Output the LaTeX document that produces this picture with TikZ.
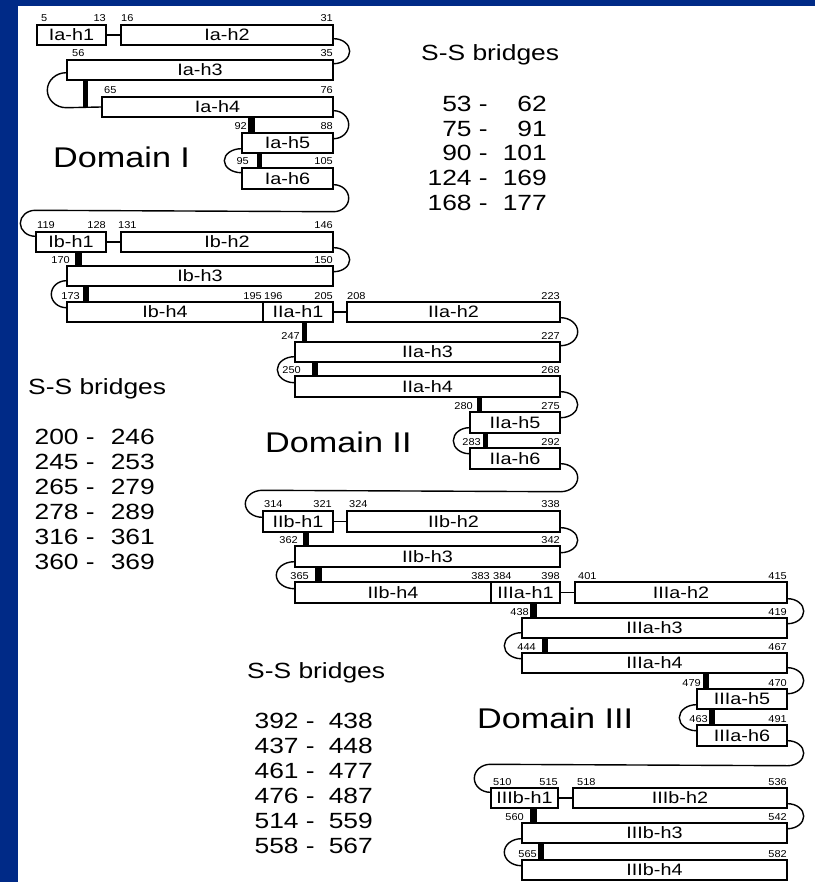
\documentclass[tikz,border=0pt]{standalone}
\usepackage{fontspec}
\setmainfont[FakeStretch=1.2]{Liberation Sans}
\newfontfamily\numfont[FakeStretch=1.1]{Liberation Sans}
\usetikzlibrary{calc}
\definecolor{bgblue}{RGB}{0,42,135}
\tikzset{
  hbox/.style={draw, line width=1.4pt, inner sep=0pt, fill=white, font=\fontsize{16.5}{16.5}\selectfont},
  loopline/.style={line width=1.4pt},
  ssbar/.style={fill=black},
  numL/.style={anchor=base west, inner sep=0pt, font=\numfont\fontsize{10}{10}\selectfont},
  numR/.style={anchor=base east, inner sep=0pt, font=\numfont\fontsize{10}{10}\selectfont},
  domlabel/.style={anchor=base west, inner sep=0pt, font=\fontsize{28.5}{28.5}\selectfont},
  sshead/.style={anchor=base west, inner sep=0pt, font=\fontsize{22}{22}\selectfont},
  ssrow/.style={anchor=base east, inner sep=0pt, font=\fontsize{22}{22}\selectfont},
}
\newcommand\hbx[6]{\node[hbox, minimum width={(#4-#2)*1pt}, minimum height={(#5-#3)*1pt}] (#1) at ({(#2+#4)/2},{(#3+#5)/2}) {#6};}
\newcommand\ssb[4]{\fill[ssbar] (#1,#2) rectangle (#3,#4);}
\newcommand\rloop[4]{\draw[loopline] ([yshift=#2pt]#1.south east) arc[start angle=90, end angle=-90, x radius=#3pt, y radius=#4pt];}
\newcommand\lloop[4]{\draw[loopline] ([yshift=#2pt]#1.south west) arc[start angle=90, end angle=270, x radius=#3pt, y radius=#4pt];}
\begin{document}
\begin{tikzpicture}[x=1pt,y=-1pt]
\useasboundingbox (0,0) rectangle (815,882);
\fill[bgblue] (0,0) rectangle (815,882);
\fill[white] (18,6) rectangle (815,882);

% ---------------- Domain I ----------------
\hbx{Ia1}{37}{25}{106}{45}{Ia-h1}
\hbx{Ia2}{121}{25}{333}{45}{Ia-h2}
\hbx{Ia3}{67}{60}{333}{80}{Ia-h3}
\hbx{Ia4}{102}{97}{333}{117}{Ia-h4}
\hbx{Ia5}{242}{133}{333}{153}{Ia-h5}
\hbx{Ia6}{242}{168}{333}{189}{Ia-h6}
\hbx{Ib1}{36}{232}{106}{252}{Ib-h1}
\hbx{Ib2}{121}{232}{333}{252}{Ib-h2}
\hbx{Ib3}{67}{266}{333}{286}{Ib-h3}
\hbx{Ib4}{67}{302}{263}{322}{Ib-h4}
% ---------------- Domain II ----------------
\hbx{IIa1}{263}{302}{333}{322}{IIa-h1}
\hbx{IIa2}{347}{302}{560}{322}{IIa-h2}
\hbx{IIa3}{295}{342}{560}{362}{IIa-h3}
\hbx{IIa4}{295}{376}{560}{397}{IIa-h4}
\hbx{IIa5}{470}{412}{560}{433}{IIa-h5}
\hbx{IIa6}{470}{448}{560}{469}{IIa-h6}
\hbx{IIb1}{263}{511}{333}{532}{IIb-h1}
\hbx{IIb2}{347}{511}{560}{532}{IIb-h2}
\hbx{IIb3}{295}{546}{560}{567}{IIb-h3}
\hbx{IIb4}{295}{582}{491}{603}{IIb-h4}
% ---------------- Domain III ----------------
\hbx{IIIa1}{491}{582}{560}{603}{IIIa-h1}
\hbx{IIIa2}{575}{582}{787}{603}{IIIa-h2}
\hbx{IIIa3}{522}{618}{787}{638}{IIIa-h3}
\hbx{IIIa4}{522}{653}{787}{673}{IIIa-h4}
\hbx{IIIa5}{697}{689}{787}{709}{IIIa-h5}
\hbx{IIIa6}{697}{725}{787}{746}{IIIa-h6}
\hbx{IIIb1}{491}{788}{558}{808}{IIIb-h1}
\hbx{IIIb2}{573}{788}{787}{808}{IIIb-h2}
\hbx{IIIb3}{522}{823}{787}{843}{IIIb-h3}
\hbx{IIIb4}{522}{860}{787}{880}{IIIb-h4}

% ---------------- connectors ----------------
\draw[loopline] (Ia1.east) -- (Ia2.west);
\rloop{Ia2}{7}{16}{12.5}
\draw[loopline] ([yshift=8pt]Ia3.south west) arc[start angle=90, end angle=270, x radius=19pt, y radius=17.5pt] -- (Ia4.west);
\rloop{Ia4}{7}{15}{14}
\lloop{Ia5}{5}{17}{12}
\draw[loopline] ([yshift=5pt]Ia6.south east) arc[start angle=90, end angle=-90, x radius=15pt, y radius=13.5pt]
  -- ([yshift=21pt]Ib1.north west) arc[start angle=90, end angle=270, x radius=15pt, y radius=13pt];
\draw[loopline] (Ib1.east) -- (Ib2.west);
\rloop{Ib2}{5}{16}{12}
\lloop{Ib3}{6}{15}{13.5}
\draw[loopline] (IIa1.east) -- (IIa2.west);
\rloop{IIa2}{5}{17}{14}
\lloop{IIa3}{6}{17}{13}
\rloop{IIa4}{6}{17}{13}
\lloop{IIa5}{6}{16}{13}
\draw[loopline] ([yshift=6pt]IIa6.south east) arc[start angle=90, end angle=-90, x radius=17pt, y radius=14pt]
  -- ([yshift=20pt]IIb1.north west) arc[start angle=90, end angle=270, x radius=17pt, y radius=13.5pt];
\draw[loopline] (IIb1.east) -- (IIb2.west);
\rloop{IIb2}{5}{17}{12.5}
\lloop{IIb3}{6}{18}{13.5}
\draw[loopline] (IIIa1.east) -- (IIIa2.west);
\rloop{IIIa2}{5}{16}{12.5}
\lloop{IIIa3}{6}{17}{13}
\rloop{IIIa4}{6}{16}{13}
\lloop{IIIa5}{5}{17}{13}
\draw[loopline] ([yshift=6pt]IIIa6.south east) arc[start angle=90, end angle=-90, x radius=16pt, y radius=12.5pt]
  -- ([yshift=23pt]IIIb1.north west) arc[start angle=90, end angle=270, x radius=16pt, y radius=14pt];
\draw[loopline] (IIIb1.east) -- (IIIb2.west);
\rloop{IIIb2}{5}{16}{12.5}
\lloop{IIIb3}{5}{17}{13.5}

% ---------------- S-S bridge bars ----------------
\ssb{83}{80}{88}{107}
\ssb{248}{117}{255}{133}
\ssb{257}{153}{262}{168}
\ssb{75}{252}{82}{266}
\ssb{83}{286}{89}{302}
\ssb{302}{322}{307}{342}
\ssb{312}{362}{318}{376}
\ssb{477}{397}{482}{412}
\ssb{483}{433}{488}{448}
\ssb{303}{532}{309}{546}
\ssb{315}{567}{322}{582}
\ssb{530}{603}{537}{618}
\ssb{542}{638}{548}{653}
\ssb{703}{673}{709}{689}
\ssb{709}{709}{715}{725}
\ssb{530}{808}{537}{823}
\ssb{538}{843}{544}{860}

% ---------------- residue numbers ----------------
\node[numL] (n5) at (41,22) {5};
\node[numR] (n13) at (106,22) {13};
\node[numL] (n16) at (121,22) {16};
\node[numR] (n31) at (333,22) {31};
\node[numL] (n56) at (72,57) {56};
\node[numR] (n35) at (333,57) {35};
\node[numL] (n65) at (104,94) {65};
\node[numR] (n76) at (333,94) {76};
\node[numR] (n92) at (247,130) {92};
\node[numR] (n88) at (333,130) {88};
\node[numR] (n95) at (249,165) {95};
\node[numR] (n105) at (333,165) {105};
\node[numL] (n119) at (37,229) {119};
\node[numR] (n128) at (106,229) {128};
\node[numL] (n131) at (118,229) {131};
\node[numR] (n146) at (333,229) {146};
\node[numR] (n170) at (70,263) {170};
\node[numR] (n150) at (333,263) {150};
\node[numR] (n173) at (80,299) {173};
\node[numR] (n195) at (262,299) {195};
\node[numL] (n196) at (264,299) {196};
\node[numR] (n205) at (333,299) {205};
\node[numL] (n208) at (347,299) {208};
\node[numR] (n223) at (560,299) {223};
\node[numR] (n247) at (300,339) {247};
\node[numR] (n227) at (560,339) {227};
\node[numR] (n250) at (301,373) {250};
\node[numR] (n268) at (560,373) {268};
\node[numR] (n280) at (473,409) {280};
\node[numR] (n275) at (560,409) {275};
\node[numR] (n283) at (481,445) {283};
\node[numR] (n292) at (560,445) {292};
\node[numL] (n314) at (264,507) {314};
\node[numR] (n321) at (332,507) {321};
\node[numL] (n324) at (349,507) {324};
\node[numR] (n338) at (560,507) {338};
\node[numR] (n362) at (298,543) {362};
\node[numR] (n342) at (560,543) {342};
\node[numR] (n365) at (309,579) {365};
\node[numR] (n383) at (490,579) {383};
\node[numL] (n384) at (493,579) {384};
\node[numR] (n398) at (560,579) {398};
\node[numL] (n401) at (578,579) {401};
\node[numR] (n415) at (787,579) {415};
\node[numR] (n438) at (529,615) {438};
\node[numR] (n419) at (787,615) {419};
\node[numR] (n444) at (536,650) {444};
\node[numR] (n467) at (787,650) {467};
\node[numR] (n479) at (701,686) {479};
\node[numR] (n470) at (787,686) {470};
\node[numR] (n463) at (708,722) {463};
\node[numR] (n491) at (787,722) {491};
\node[numL] (n510) at (493,785) {510};
\node[numR] (n515) at (558,785) {515};
\node[numL] (n518) at (577,785) {518};
\node[numR] (n536) at (787,785) {536};
\node[numR] (n560) at (524,820) {560};
\node[numR] (n542) at (787,820) {542};
\node[numR] (n565) at (537,857) {565};
\node[numR] (n582) at (787,857) {582};

% ---------------- domain labels ----------------
\node[domlabel] (d1) at (53,168) {Domain I};
\node[domlabel] (d2) at (265,452) {Domain II};
\node[domlabel] (d3) at (477,728) {Domain III};

% ---------------- S-S bridge lists ----------------
\node[sshead] (s1) at (421,61) {S-S bridges};
\node[ssrow] (s1a1) at (488,112) {53 -};  \node[ssrow] (s1a2) at (547,112) {62};
\node[ssrow] (s1b1) at (488,137) {75 -};  \node[ssrow] (s1b2) at (547,137) {91};
\node[ssrow] (s1c1) at (488,161) {90 -};  \node[ssrow] (s1c2) at (547,161) {101};
\node[ssrow] (s1d1) at (488,186) {124 -}; \node[ssrow] (s1d2) at (547,186) {169};
\node[ssrow] (s1e1) at (488,211) {168 -}; \node[ssrow] (s1e2) at (547,211) {177};

\node[sshead] (s2) at (28,394) {S-S bridges};
\node[ssrow] (s2a1) at (95,444) {200 -}; \node[ssrow] (s2a2) at (155,444) {246};
\node[ssrow] (s2b1) at (95,469) {245 -}; \node[ssrow] (s2b2) at (155,469) {253};
\node[ssrow] (s2c1) at (95,494) {265 -}; \node[ssrow] (s2c2) at (155,494) {279};
\node[ssrow] (s2d1) at (95,519) {278 -}; \node[ssrow] (s2d2) at (155,519) {289};
\node[ssrow] (s2e1) at (95,544) {316 -}; \node[ssrow] (s2e2) at (155,544) {361};
\node[ssrow] (s2f1) at (95,569) {360 -}; \node[ssrow] (s2f2) at (155,569) {369};

\node[sshead] (s3) at (247,678) {S-S bridges};
\node[ssrow] (s3a1) at (315,728) {392 -}; \node[ssrow] (s3a2) at (373,728) {438};
\node[ssrow] (s3b1) at (315,753) {437 -}; \node[ssrow] (s3b2) at (373,753) {448};
\node[ssrow] (s3c1) at (315,778) {461 -}; \node[ssrow] (s3c2) at (373,778) {477};
\node[ssrow] (s3d1) at (315,803) {476 -}; \node[ssrow] (s3d2) at (373,803) {487};
\node[ssrow] (s3e1) at (315,828) {514 -}; \node[ssrow] (s3e2) at (373,828) {559};
\node[ssrow] (s3f1) at (315,853) {558 -}; \node[ssrow] (s3f2) at (373,853) {567};
\end{tikzpicture}
\end{document}
